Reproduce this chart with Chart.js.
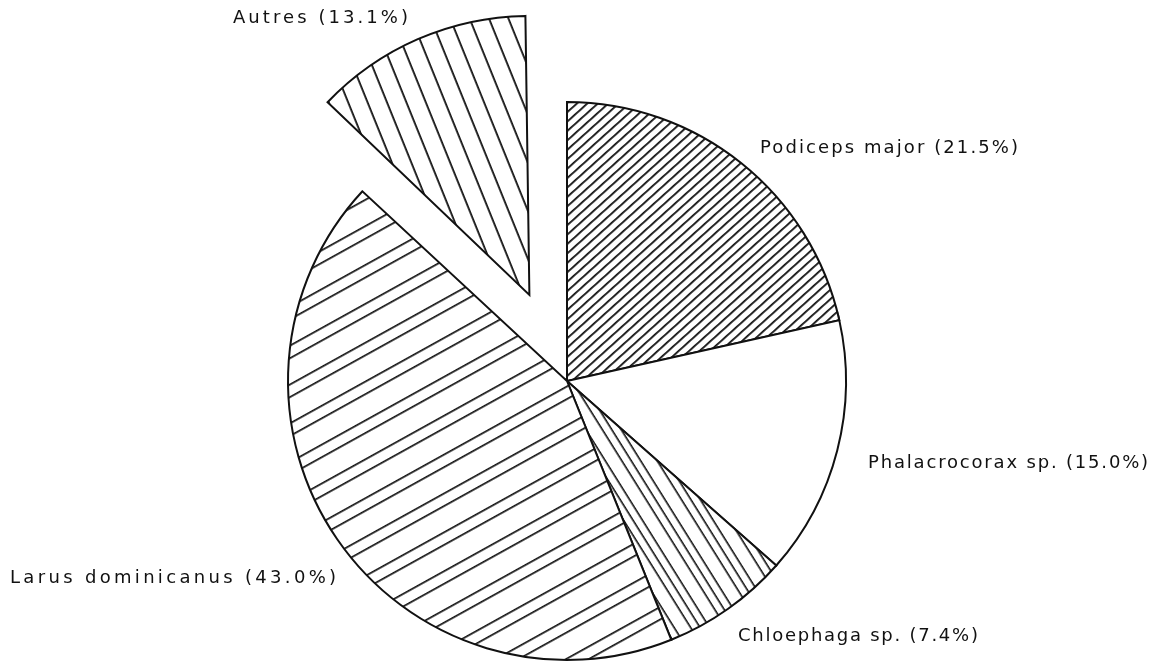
<!DOCTYPE html>
<html>
<head>
<meta charset="utf-8">
<script src="https://cdn.jsdelivr.net/npm/chart.js@4/dist/chart.umd.min.js"></script>
<style>
  html, body { margin: 0; padding: 0; background: #fff; }
  #wrap { width: 1165px; height: 668px; }
</style>
</head>
<body>
<div id="wrap"><canvas id="c" width="1165" height="668"></canvas></div>
<script>
// Species and their share of the sample (%)
const species = ['Podiceps major', 'Phalacrocorax sp.', 'Chloephaga sp.', 'Larus dominicanus', 'Autres'];
const shares = [21.5, 15.0, 7.4, 43.0, 13.1];
// Pulled-out slice ("Autres")
const explode = [0, 0, 0, 0, 376];

// Label layout: left edge, vertical middle, text width
const labelLayout = [[760, 148, 258], [868, 463, 280], [738, 636, 240], [10, 578, 326], [233, 18, 175]];

const PIE_RADIUS = 279;

const canvas = document.getElementById('c');
const ctx = canvas.getContext('2d');

// Hatch fill: horizontal stripes in a tile, rotated to the wanted angle
function hatch(period, offsets, lineW, angleDeg) {
  const t = document.createElement('canvas');
  t.width = 8; t.height = period;
  const g = t.getContext('2d');
  g.fillStyle = '#fff';
  g.fillRect(0, 0, 8, period);
  g.fillStyle = '#111';
  offsets.forEach(o => g.fillRect(0, o, 8, lineW));
  const p = ctx.createPattern(t, 'repeat');
  p.setTransform(new DOMMatrix().rotateSelf(angleDeg));
  return p;
}

const fills = [
  hatch(7, [0], 1.8, -42),          // Podiceps: dense "/" lines
  '#ffffff',                         // Phalacrocorax: plain
  hatch(30, [0, 8, 16], 1.6, 58),   // Chloephaga: steep "\" groups
  hatch(34, [0, 11], 1.7, -29),     // Larus: shallow paired lines
  hatch(18, [0], 1.8, 68)           // Autres: steep "\" lines
];

// Pulled-out arcs get drawn with an enlarged radius; keep them the same size as the pie
const keepRadius = {
  id: 'keepRadius',
  beforeDatasetsDraw(chart) {
    chart.getDatasetMeta(0).data.forEach(arc => {
      const off = (arc.options.offset || 0) / 4;
      const circ = arc.endAngle - arc.startAngle;
      const fix = 1 - Math.sin(Math.min(Math.PI, circ));
      arc.outerRadius = PIE_RADIUS - off * fix;
    });
  }
};

const labelPlugin = {
  id: 'sliceLabels',
  afterDraw(chart) {
    const c = chart.ctx;
    c.save();
    c.font = '18px "DejaVu Sans"';
    c.fillStyle = '#111';
    c.textBaseline = 'middle';
    c.textAlign = 'left';
    species.forEach((name, i) => {
      const txt = name + ' (' + shares[i].toFixed(1) + '%)';
      const [x, y, w] = labelLayout[i];
      c.letterSpacing = '0px';
      const natural = c.measureText(txt).width;
      c.letterSpacing = ((w - natural) / (txt.length - 1)).toFixed(2) + 'px';
      c.fillText(txt, x, y);
    });
    c.restore();
  }
};

new Chart(ctx, {
  type: 'pie',
  data: {
    labels: species,
    datasets: [{
      data: shares,
      backgroundColor: fills,
      borderColor: '#111',
      borderWidth: 2,
      borderJoinStyle: 'miter',
      offset: explode,
      hoverOffset: 0,
      clip: false
    }]
  },
  options: {
    responsive: false,
    animation: false,
    radius: PIE_RADIUS,
    layout: { padding: { left: 0, right: 31, top: 94, bottom: 0 } },
    plugins: { legend: { display: false }, tooltip: { enabled: false } },
    events: []
  },
  plugins: [keepRadius, labelPlugin]
});
</script>
</body>
</html>
